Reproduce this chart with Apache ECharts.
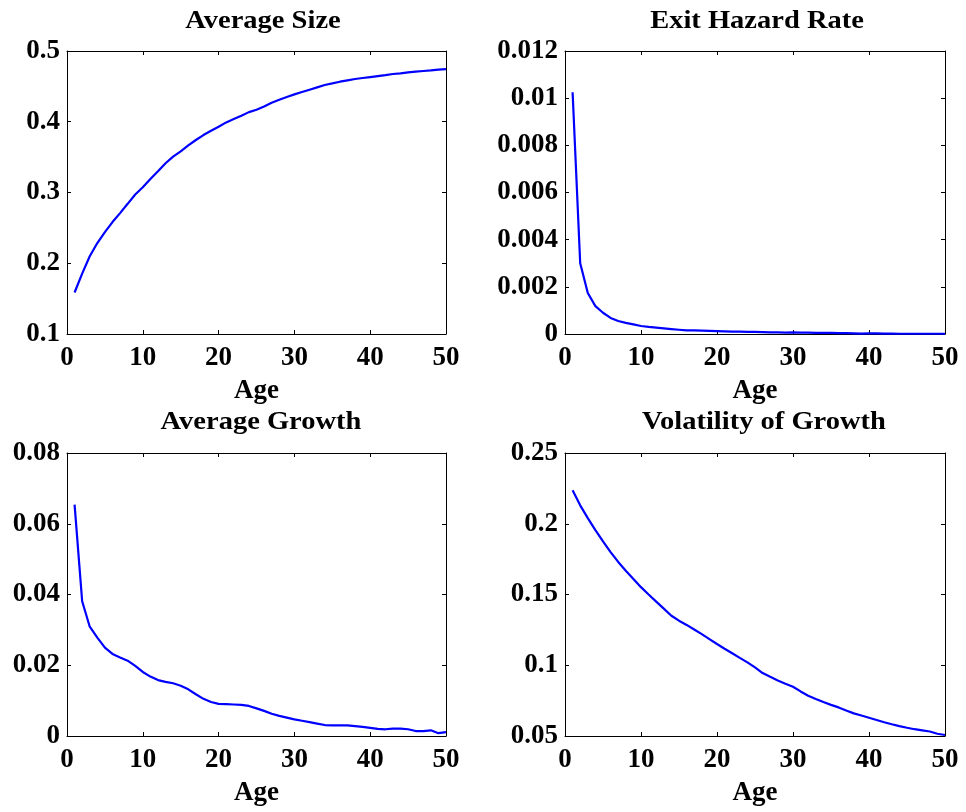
<!DOCTYPE html>
<html>
<head>
<meta charset="utf-8">
<script src="https://cdn.jsdelivr.net/npm/echarts@6/dist/echarts.min.js"></script>
<style>
html,body{margin:0;padding:0;background:#fff;}
#c{width:966px;height:812px;}
</style>
</head>
<body>
<div id="c"></div>
<script>
// ---- data ----
const ages = [1,2,3,4,5,6,7,8,9,10,11,12,13,14,15,16,17,18,19,20,21,22,23,24,25,26,27,28,29,30,31,32,33,34,35,36,37,38,39,40,41,42,43,44,45,46,47,48,49,50];

const averageSize = [0.1587,0.1854,0.2099,0.2286,0.2441,0.2582,0.2709,0.2840,0.2972,0.3075,
  0.3192,0.3300,0.3413,0.3507,0.3582,0.3667,0.3742,0.3812,0.3873,0.3930,
  0.3991,0.4038,0.4085,0.4136,0.4170,0.4217,0.4269,0.4311,0.4349,0.4387,
  0.4420,0.4453,0.4486,0.4519,0.4542,0.4566,0.4585,0.4604,0.4618,0.4632,
  0.4646,0.4660,0.4675,0.4684,0.4698,0.4708,0.4717,0.4726,0.4736,0.4745];

const exitHazard = [0.01025,0.0030,0.00174,0.00118,0.00090,0.00068,0.00055,0.00047,0.00041,0.00034,
  0.00030,0.00027,0.00024,0.00021,0.00018,0.00015,0.00015,0.00014,0.00013,0.00012,
  0.00011,0.00010,0.00010,0.00009,0.00009,0.00008,0.00007,0.00007,0.00006,0.00007,
  0.00006,0.00006,0.00005,0.00005,0.00005,0.00004,0.00004,0.00003,0.00002,0.00003,
  0.00003,0.00002,0.00002,0.00001,0.00001,0.00001,0.00001,0.00001,0.00001,0.00001];

const averageGrowth = [0.0654,0.0381,0.0309,0.0278,0.0250,0.0232,0.0222,0.0213,0.0198,0.0181,
  0.0168,0.0158,0.0153,0.0149,0.0142,0.0132,0.0118,0.0105,0.0096,0.0091,
  0.0090,0.0089,0.0088,0.0085,0.0078,0.0071,0.0063,0.0057,0.0052,0.0047,
  0.0043,0.0039,0.0035,0.0031,0.0030,0.0030,0.0030,0.0028,0.0026,0.0023,
  0.0020,0.0019,0.0021,0.0021,0.0019,0.0014,0.0014,0.0016,0.0008,0.0011];

const volatilityGrowth = [0.2236,0.2130,0.2040,0.1955,0.1875,0.1800,0.1730,0.1668,0.1610,0.1552,
  0.1500,0.1450,0.1400,0.1350,0.1315,0.1285,0.1253,0.1220,0.1185,0.1150,
  0.1117,0.1085,0.1052,0.1020,0.0985,0.0945,0.0918,0.0893,0.0870,0.0848,
  0.0815,0.0785,0.0762,0.0740,0.0720,0.0702,0.0680,0.0660,0.0645,0.0629,
  0.0613,0.0597,0.0583,0.0570,0.0558,0.0548,0.0540,0.0532,0.0516,0.0507];

const titles = ['Average Size','Exit Hazard Rate','Average Growth','Volatility of Growth'];
const xName = 'Age';
const xTicks = {min:0, max:50, interval:10};
const yScales = [
  {min:0.1, max:0.5, interval:0.1},
  {min:0, max:0.012, interval:0.002},
  {min:0, max:0.08, interval:0.02},
  {min:0.05, max:0.25, interval:0.05}
];
const seriesValues = [averageSize, exitHazard, averageGrowth, volatilityGrowth];

// ---- layout / style ----
const FONT = '"Liberation Serif","Times New Roman",serif';
const grids = [
  {left:67, top:51, width:379, height:283},
  {left:565, top:51, width:380, height:283},
  {left:67, top:453, width:379, height:283},
  {left:565, top:453, width:380, height:283}
];
const titlePos = [[263,22],[757,22],[261,423],[764,423]];

const tickStyle = {inside:true, length:4, lineStyle:{color:'#000', width:1}};
const lineStyleAxis = {show:true, onZero:false, lineStyle:{color:'#000', width:1}};
const labelStyle = {color:'#000', fontFamily:FONT, fontWeight:'bold', fontSize:27};

const xAxis = [], yAxis = [], series = [], graphic = [];
grids.forEach((g, i) => {
  xAxis.push({
    type:'value', gridIndex:i, position:'bottom', min:xTicks.min, max:xTicks.max, interval:xTicks.interval,
    axisLine:lineStyleAxis, axisTick:tickStyle, splitLine:{show:false},
    axisLabel:Object.assign({margin:11}, labelStyle),
    name:xName, nameLocation:'middle', nameGap:44,
    nameTextStyle:{color:'#000', fontFamily:FONT, fontWeight:'bold', fontSize:27}
  });
  xAxis.push({
    type:'value', gridIndex:i, position:'top', min:xTicks.min, max:xTicks.max, interval:xTicks.interval,
    axisLine:lineStyleAxis, axisTick:tickStyle, splitLine:{show:false}, axisLabel:{show:false}
  });
  const ys = yScales[i];
  yAxis.push({
    type:'value', gridIndex:i, position:'left', min:ys.min, max:ys.max, interval:ys.interval,
    axisLine:lineStyleAxis, axisTick:tickStyle, splitLine:{show:false},
    axisLabel:Object.assign({margin:7}, labelStyle)
  });
  yAxis.push({
    type:'value', gridIndex:i, position:'right', min:ys.min, max:ys.max, interval:ys.interval,
    axisLine:lineStyleAxis, axisTick:tickStyle, splitLine:{show:false}, axisLabel:{show:false}
  });
  series.push({
    type:'line', xAxisIndex:2*i, yAxisIndex:2*i, showSymbol:false, symbol:'none',
    lineStyle:{color:'#0000ff', width:2.2}, itemStyle:{color:'#0000ff'},
    data: ages.map((a, k) => [a, seriesValues[i][k]]),
    animation:false
  });
  graphic.push({
    type:'text', x:titlePos[i][0], y:titlePos[i][1], scaleX:1.14,
    style:{text:titles[i], fill:'#000', font:'bold 25px ' + FONT,
      align:'center', verticalAlign:'middle', textAlign:'center', textVerticalAlign:'middle'}
  });
});

const chart = echarts.init(document.getElementById('c'), null, {renderer:'canvas'});
chart.setOption({
  backgroundColor:'#fff',
  animation:false,
  grid:grids,
  xAxis:xAxis,
  yAxis:yAxis,
  series:series,
  graphic:graphic
});
</script>
</body>
</html>
